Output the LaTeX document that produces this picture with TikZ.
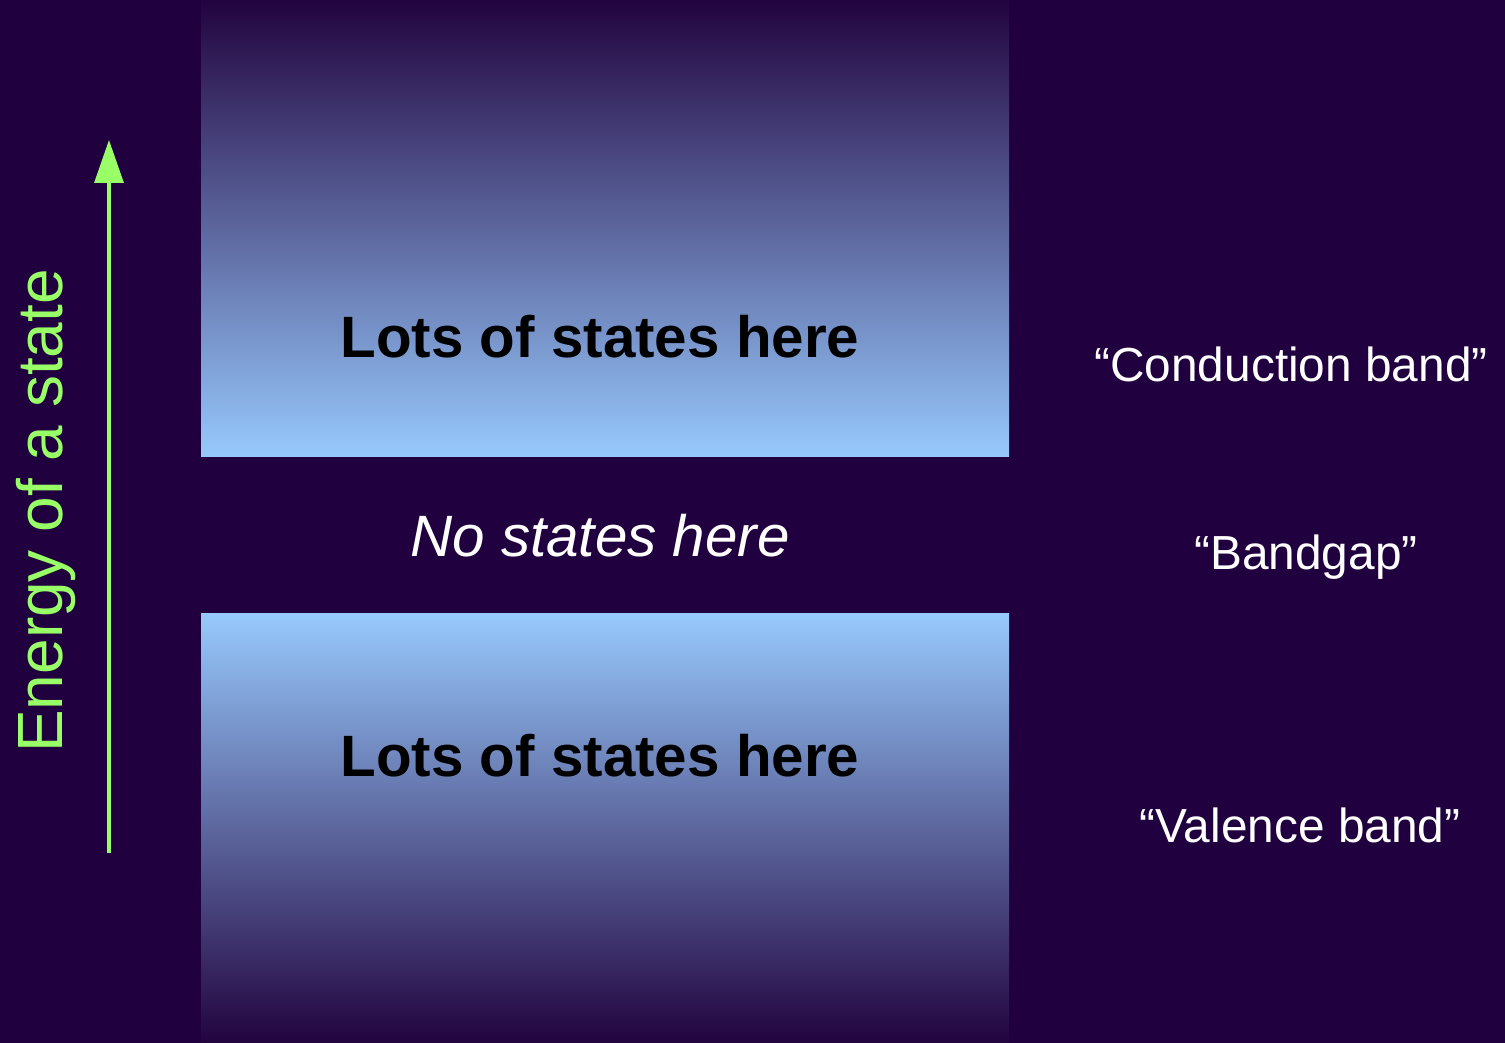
\documentclass[tikz,border=0pt]{standalone}
\usepackage{fontspec}
\setmainfont{Liberation Sans}
\usetikzlibrary{arrows.meta}
\definecolor{nightpurple}{HTML}{20003E}
\definecolor{bandtop}{HTML}{22043F}
\definecolor{skyblue}{HTML}{97C9FD}
\definecolor{lime}{HTML}{99FF66}

\begin{document}
\begin{tikzpicture}[every node/.style={inner sep=0pt},
  bandlabel/.style={font=\fontsize{16.6}{20}\selectfont\bfseries,text=black,anchor=base},
  sidelabel/.style={font=\fontsize{13.6}{16}\selectfont,text=white,anchor=base}]
% Dark page behind everything, fixes the picture size.
\fill[nightpurple] (0,0) rectangle (15.05,10.43);
\useasboundingbox (0,0) rectangle (15.05,10.43);
% Conduction band above, valence band below, gap between.
\shade[top color=bandtop,bottom color=skyblue] (2.01,5.86) rectangle (10.09,10.43);
\shade[top color=skyblue,bottom color=bandtop] (2.01,0) rectangle (10.09,4.29);
\node[bandlabel] (cband) at (6.00,6.85) {Lots of states here};
\node[bandlabel] (vband) at (6.00,2.66) {Lots of states here};
\node[font=\fontsize{16.6}{20}\selectfont\itshape,text=white,anchor=base] (gap) at (6.00,4.86) {No states here};
% Names on the right.
\node[sidelabel] (cname) at (12.91,6.61) {“Conduction band”};
\node[sidelabel] (gname) at (13.06,4.73) {“Bandgap”};
\node[sidelabel] (vname) at (13.00,2.00) {“Valence band”};
% Energy axis.
\coordinate (elow) at (1.09,1.90);
\coordinate (ehigh) at (1.09,9.03);
\draw[lime,line width=0.9pt,-{Triangle[width=0.29cm,length=0.43cm]}] (elow) -- (ehigh);
\node[font=\fontsize{18.2}{22}\selectfont,text=lime,rotate=90,anchor=base] (eaxis) at (0.62,5.32) {Energy of a state};
\end{tikzpicture}
\end{document}
